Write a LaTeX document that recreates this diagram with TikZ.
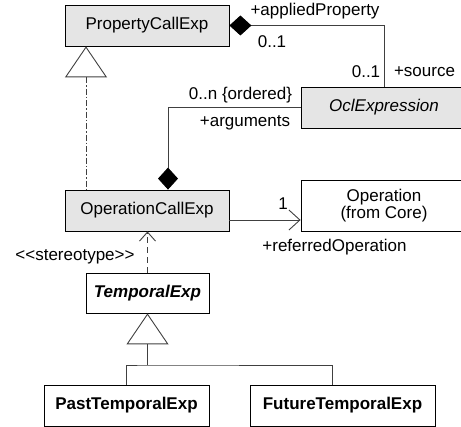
\documentclass[tikz,border=0pt]{standalone}
\usepackage{fontspec}
\setmainfont{Liberation Sans}
\usetikzlibrary{arrows.meta}

\begin{document}
\begin{tikzpicture}[x=1pt,y=-1pt,
  font=\fontsize{17}{19}\selectfont,
  cls/.style={draw, thick, fill=black!10, inner sep=0pt, align=center},
  plain/.style={draw, thick, fill=white, inner sep=0pt, align=center},
  lbl/.style={inner sep=0pt},
  conn/.style={draw=black!75, line width=0.9pt},
  gen/.style={conn, {Triangle[open, length=31, width=42, line width=0.9pt]}-},
  comp/.style={conn, -{Diamond[length=22, width=20, fill=black, color=black]}}]
\useasboundingbox (0,0) rectangle (461,427);
\clip (0,0) rectangle (461,427);

% classes
\node [cls, minimum width=164, minimum height=41] (pce) at (147,25.5) {PropertyCallExp};
\node [cls, minimum width=166, minimum height=41] (ocl) at (384,107.5) {\itshape OclExpression};
\node [cls, minimum width=164, minimum height=41] (oce) at (147,210.5) {OperationCallExp};
\node [plain, minimum width=166, minimum height=51] (op) at (384,205.5) {Operation\\[-2pt](from Core)};
\node [plain, minimum width=123, minimum height=40] (te) at (147.5,293) {\bfseries\itshape TemporalExp};
\node [plain, minimum width=165, minimum height=41] (pte) at (126.5,405.5) {\bfseries PastTemporalExp};
\node [plain, minimum width=185, minimum height=41] (fte) at (342.5,405.5) {\bfseries FutureTemporalExp};

% source / appliedProperty
\draw [conn, {Diamond[length=22, width=20, fill=black, color=black]}-] (pce.east) -| (ocl.north);
\node [lbl] (ap) at (315,11.5) {+appliedProperty};
\node [lbl] (m1) at (272,42) {0..1};
\node [lbl] (m2) at (366,72) {0..1};
\node [lbl] (src) at (424.5,72) {+source};

% arguments
\draw [comp] (ocl.west) -| ([xshift=21]oce.north);
\node [lbl] (ord) at (240.5,95) {0..n \{ordered\}};
\node [lbl] (arg) at (245,123) {+arguments};

% generalization PropertyCallExp
\draw [gen, dash pattern=on 6pt off 2pt on 1.5pt off 2pt] ([xshift=-61]pce.south) -- ([xshift=-61]oce.north);

% referredOperation
\draw [conn, -{Straight Barb[length=11, width=20, line width=0.9pt]}] ([yshift=-9.5]oce.east) -- ([yshift=-9.5]oce.east -| op.west);
\node [lbl] (one) at (283,204) {1};
\node [lbl] (ref) at (334.5,247) {+referredOperation};

% stereotype dependency
\draw [conn, dash pattern=on 6pt off 4pt, -{Straight Barb[length=9, width=16, line width=0.9pt]}] (te.north) -- (te.north |- oce.south);
\node [lbl] (st) at (75,257) {<\kern0pt<stereotype>\kern0pt>};

% generalization TemporalExp
\coordinate (join) at (147.5,365);
\draw [gen] (te.south) -- (join);
\draw [conn] (pte.north) |- (join) -| ([xshift=-10.5]fte.north);

\end{tikzpicture}
\end{document}
